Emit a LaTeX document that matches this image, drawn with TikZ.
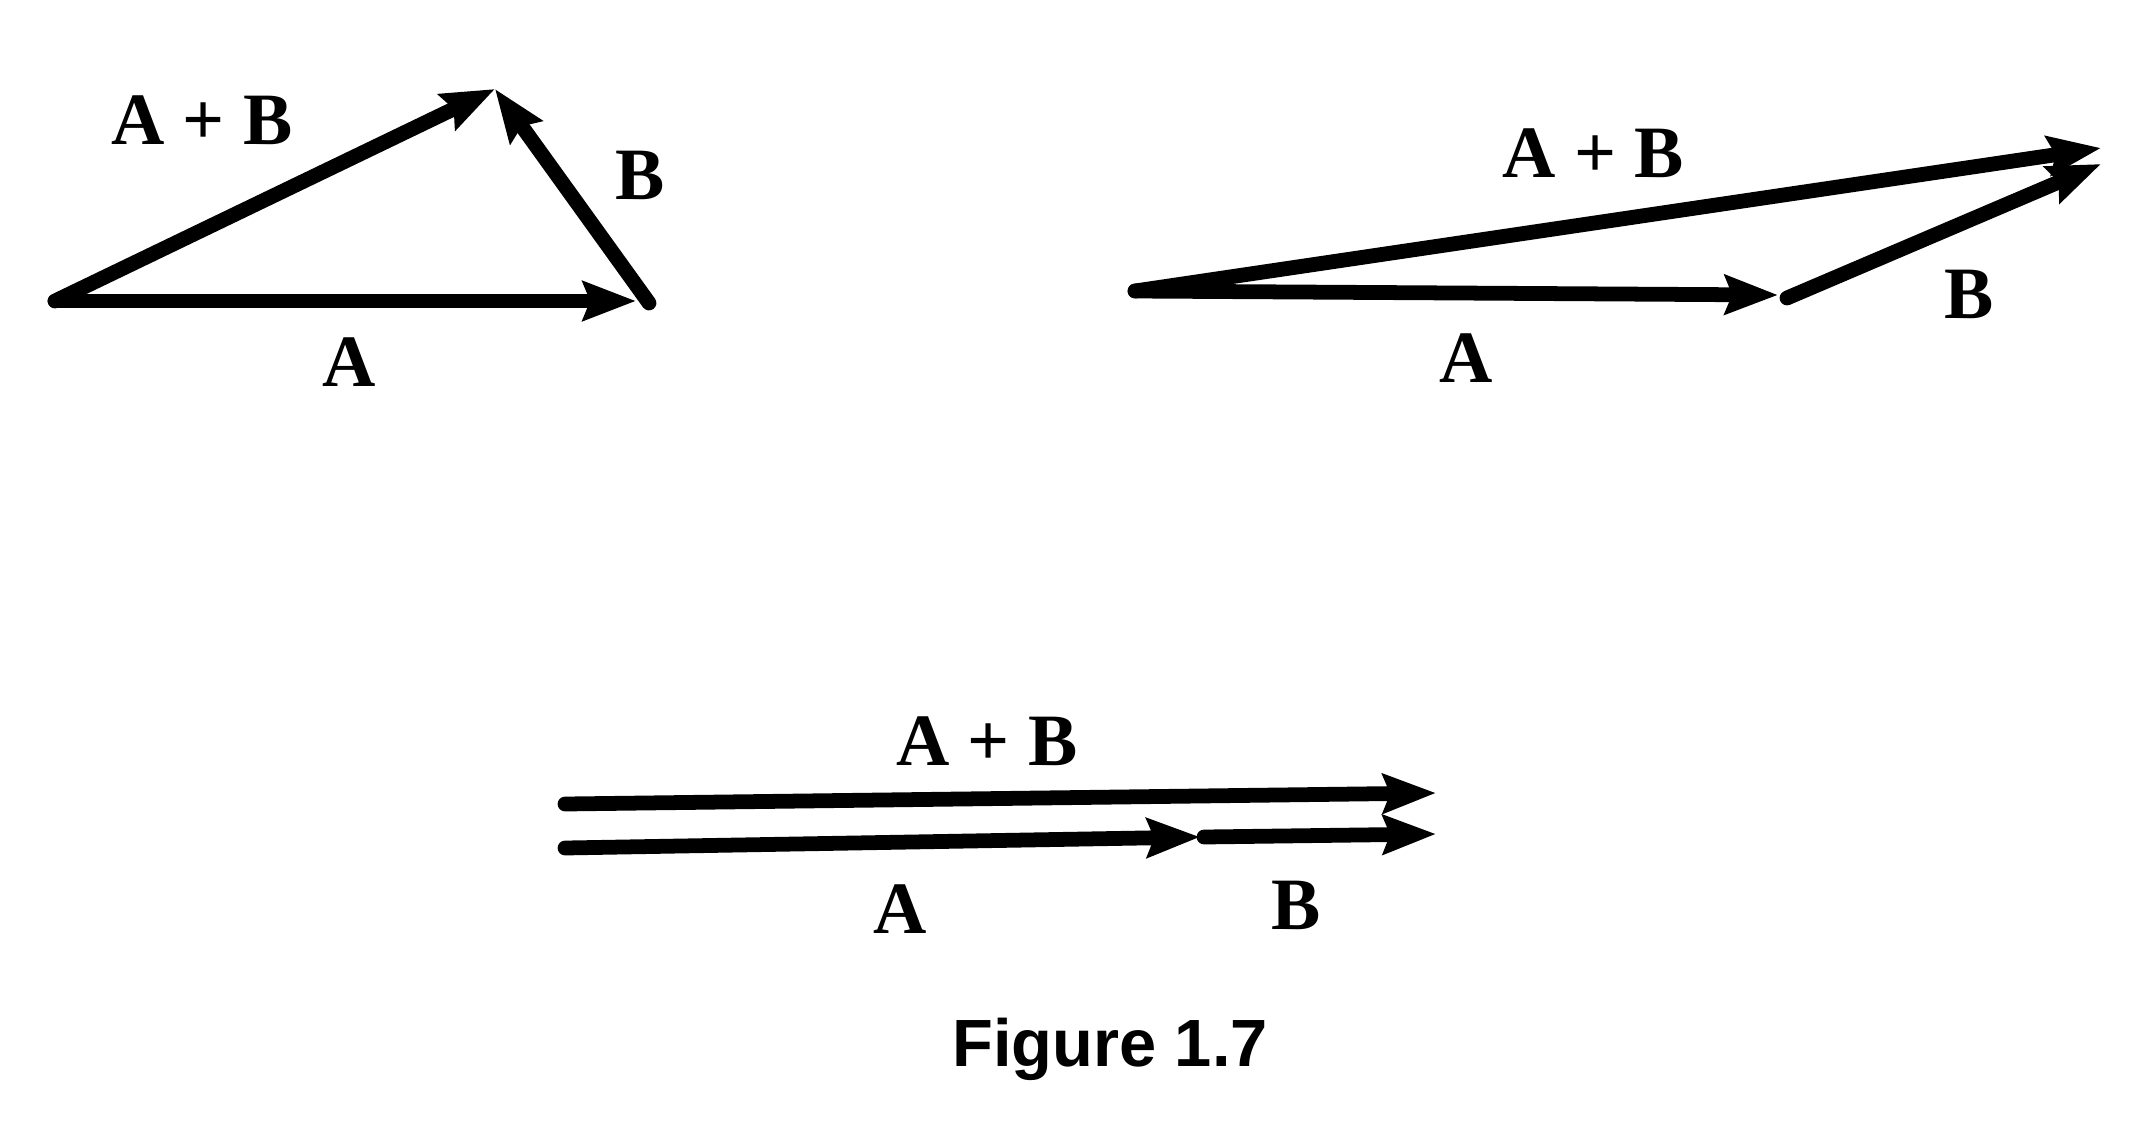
\documentclass[tikz,border=0pt]{standalone}
\usepackage{fontspec}
\setmainfont{Liberation Serif}
\setsansfont{Liberation Sans}
\usetikzlibrary{arrows.meta,positioning}

\begin{document}
\begin{tikzpicture}[x=0.01cm, y=-0.01cm, >={Stealth[length=15pt, width=11pt, inset=2pt]},
    vec/.style={->, line width=4.2pt, line cap=round},
    lbl/.style={font=\fontsize{21}{25}\selectfont\bfseries}]
    \useasboundingbox (0,0) rectangle (2133,1145);

    % Triangle (left)
    \coordinate (TriTail) at (55,301);
    \coordinate (TriATip) at (636,301);
    \coordinate (TriBTail) at (649,303);
    \coordinate (TriSumTip) at (495,89);
    \draw[vec] (TriTail) -- (TriATip);
    \draw[vec] (TriBTail) -- (TriSumTip);
    \draw[vec] (TriTail) -- (TriSumTip);
    \node (TriSumLabel) [lbl] at (202,120) {A + B};
    \node (TriBLabel) [lbl] at (640,175) {B};
    \node (TriALabel) [lbl] at (349,362) {A};

    % Flat triangle (right)
    \coordinate (FlatTail) at (1135,291);
    \coordinate (FlatATip) at (1778,295);
    \coordinate (FlatBTail) at (1787,298);
    \coordinate (FlatBTip) at (2101,164);
    \coordinate (FlatSumTip) at (2101,148);
    \draw[vec] (FlatTail) -- (FlatATip);
    \draw[vec] (FlatBTail) -- (FlatBTip);
    \draw[vec] (FlatTail) -- (FlatSumTip);
    \node (FlatSumLabel) [lbl] at (1593,153) {A + B};
    \node (FlatALabel) [lbl] at (1466,358) {A};
    \node (FlatBLabel) [lbl] at (1969,294) {B};

    % Collinear (bottom)
    \coordinate (LineSumTail) at (565,804);
    \coordinate (LineSumTip) at (1436,793);
    \coordinate (LineATail) at (565,848);
    \coordinate (LineATip) at (1200,837);
    \coordinate (LineBTail) at (1204,837);
    \coordinate (LineBTip) at (1436,834);
    \draw[vec] (LineSumTail) -- (LineSumTip);
    \draw[vec] (LineATail) -- (LineATip);
    \draw[vec] (LineBTail) -- (LineBTip);
    \node (LineSumLabel) [lbl] at (987,741) {A + B};
    \node (LineALabel) [lbl] at (900,909) {A};
    \node (LineBLabel) [lbl] at (1296,905) {B};

    % Caption
    \node (Caption) [font=\fontsize{19}{23}\selectfont\sffamily\bfseries] at (1110,1049) {Figure 1.7};
\end{tikzpicture}
\end{document}
